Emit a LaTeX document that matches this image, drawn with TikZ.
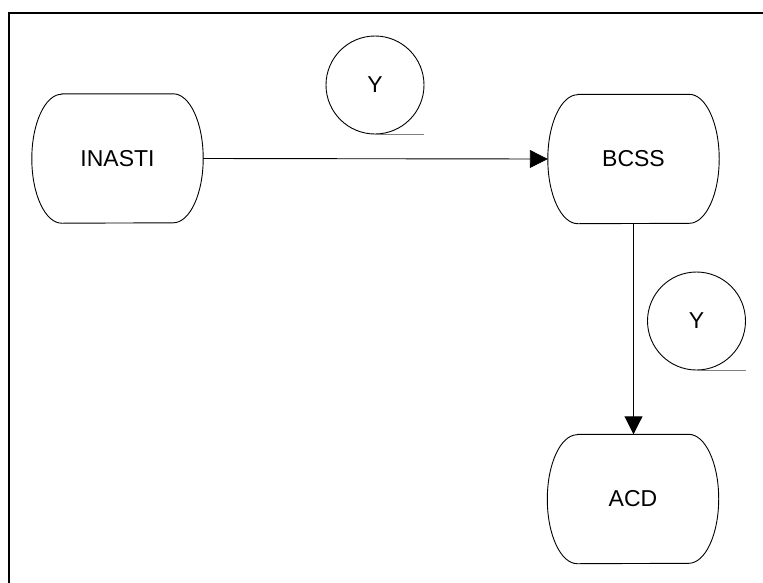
\documentclass[tikz,border=0pt]{standalone}
\usepackage{fontspec}
\setmainfont{Liberation Sans}
\usetikzlibrary{arrows.meta}
\begin{document}
\begin{tikzpicture}[x=1pt,y=-1pt,
  capsule/.style={minimum width=171pt,minimum height=129pt,inner sep=0pt,font=\fontsize{23}{27}\selectfont},
  outline/.style={draw=black,line width=0.9pt},
  tok/.style={circle,draw=black,line width=0.9pt,minimum size=98pt,inner sep=0pt,font=\fontsize{23}{27}\selectfont},
  tokline/.style={draw=gray,line width=1.5pt},
  flow/.style={draw=black,line width=0.9pt,-{Triangle[length=18pt,width=18pt]}},
  frame/.style={draw=black,line width=2pt}]
\useasboundingbox (0,0) rectangle (763,582);
\coordinate (fb) at (9,590);
\coordinate (fc) at (9,13);
\coordinate (fr) at (770,13);
\draw[frame] (fb) -- (fc) -- (fr);
\node[capsule] (inasti) at (117.5,158.5) {INASTI};
\node[capsule] (bcss) at (633.5,159) {BCSS};
\node[capsule] (acd) at (633,499) {ACD};
\foreach \n in {inasti,bcss,acd}{
  \draw[outline] ([xshift=30pt]\n.north west) -- ([xshift=-30pt]\n.north east)
    arc[start angle=90,end angle=-90,x radius=30pt,y radius=64.5pt]
    -- ([xshift=30pt]\n.south west)
    arc[start angle=-90,end angle=-270,x radius=30pt,y radius=64.5pt] -- cycle;
}
\node[tok] (y1) at (375,85) {Y};
\node[tok] (y2) at (696.5,321) {Y};
\draw[tokline] (y1.south) -- (y1.south -| y1.east);
\draw[tokline] (y2.south) -- (y2.south -| y2.east);
\draw[flow] (inasti.east) -- (bcss.west);
\draw[flow] (bcss.south) -- (bcss.south |- acd.north);
\end{tikzpicture}
\end{document}
